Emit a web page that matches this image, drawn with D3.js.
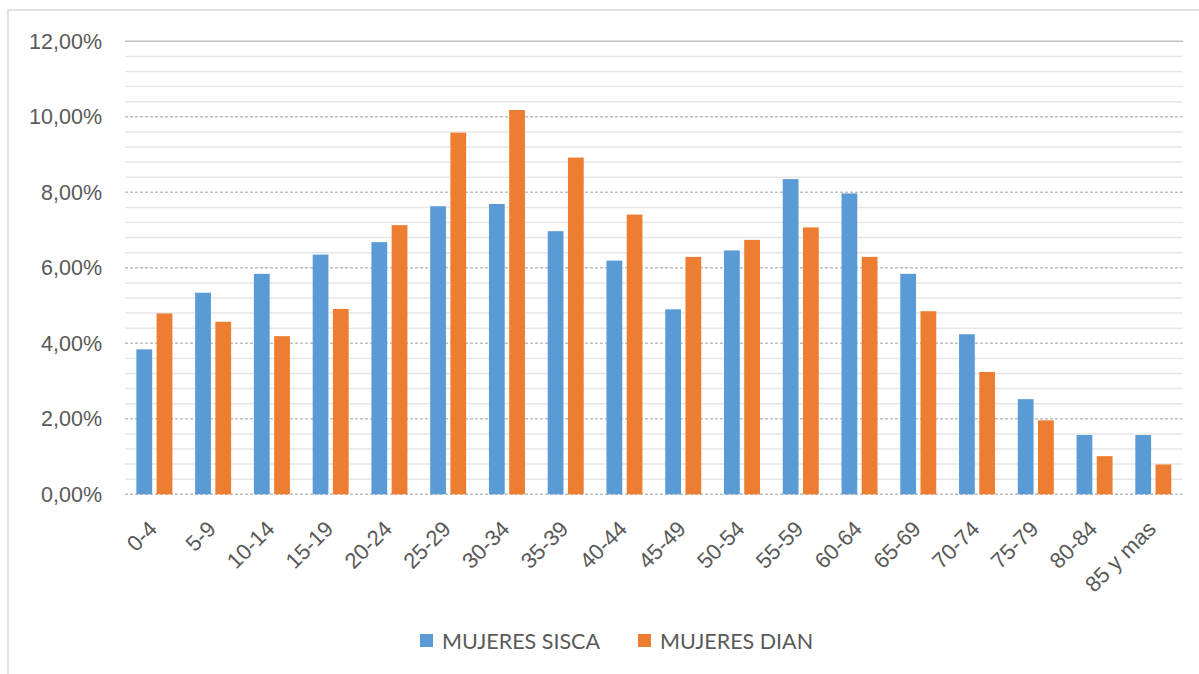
<!DOCTYPE html>
<html>
<head>
<meta charset="utf-8">
<script src="https://cdn.jsdelivr.net/npm/d3@7"></script>
<style>
  body { margin: 0; background: #fff; }
  svg { display: block; font-family: Lato, "Open Sans", sans-serif; }
</style>
</head>
<body>
<div id="chart"></div>
<script>
// grupos de edad y porcentajes
const categories = ["0-4", "5-9", "10-14", "15-19", "20-24", "25-29", "30-34", "35-39", "40-44",
  "45-49", "50-54", "55-59", "60-64", "65-69", "70-74", "75-79", "80-84", "85 y mas"];
const seriesNames = ["MUJERES SISCA", "MUJERES DIAN"];
const sisca = [3.84, 5.34, 5.84, 6.35, 6.68, 7.63, 7.69, 6.97, 6.19, 4.90, 6.46, 8.35, 7.97, 5.84, 4.24, 2.52, 1.57, 1.57];
const dian = [4.79, 4.57, 4.19, 4.91, 7.13, 9.58, 10.18, 8.92, 7.41, 6.29, 6.74, 7.07, 6.29, 4.85, 3.24, 1.96, 1.01, 0.79];
const yTicks = [0, 2, 4, 6, 8, 10, 12];

const colors = { "MUJERES SISCA": "#5B9BD5", "MUJERES DIAN": "#ED7D31" };

const width = 1199, height = 674;
const svg = d3.select("#chart").append("svg")
  .attr("width", width)
  .attr("height", height);

// borde del area del grafico
svg.append("rect")
  .attr("x", 8).attr("y", 10)
  .attr("width", 1300).attr("height", 700)
  .attr("fill", "none")
  .attr("stroke", "#d9d9d9")
  .attr("stroke-width", 1.5);

const plotLeft = 125, plotRight = 1182.7, plotTop = 41.3, plotBottom = 494.3;

const y = d3.scaleLinear().domain([0, 12]).range([plotBottom, plotTop]);
const x0 = d3.scaleBand().domain(categories).range([plotLeft, plotRight]).padding(0);
const groupW = 36;
const x1 = d3.scaleBand().domain(seriesNames)
  .range([(x0.bandwidth() - groupW) / 2, (x0.bandwidth() + groupW) / 2])
  .paddingInner(0.22).paddingOuter(0);

// lineas de division menores (cada 0,4%)
const minor = d3.range(0, 12.001, 0.4).filter(v => Math.abs(v / 2 - Math.round(v / 2)) > 1e-6);
svg.append("g")
  .selectAll("line")
  .data(minor)
  .join("line")
  .attr("x1", plotLeft).attr("x2", plotRight)
  .attr("y1", d => y(d)).attr("y2", d => y(d))
  .attr("stroke", "#e6e6e6")
  .attr("stroke-width", 1.5);

// lineas principales (cada 2%)
svg.append("g")
  .selectAll("line")
  .data(yTicks)
  .join("line")
  .attr("x1", plotLeft).attr("x2", plotRight)
  .attr("y1", d => y(d)).attr("y2", d => y(d))
  .attr("stroke", "#bfbfbf")
  .attr("stroke-width", 1.5)
  .attr("stroke-dasharray", d => d === 12 ? null : "3,2");

// eje Y
const yAxis = d3.axisLeft(y)
  .tickValues(yTicks)
  .tickSize(0)
  .tickPadding(0)
  .tickFormat(d => d.toFixed(2).replace(".", ",") + "%");
const gy = svg.append("g")
  .attr("transform", `translate(102,0)`)
  .call(yAxis);
gy.select(".domain").remove();
gy.selectAll("text")
  .attr("fill", "#595959")
  .style("font-size", "21.5px");

// barras
const data = categories.map((c, i) => ({ cat: c, values: [
  { name: seriesNames[0], value: sisca[i] },
  { name: seriesNames[1], value: dian[i] }
]}));

svg.append("g")
  .selectAll("g")
  .data(data)
  .join("g")
  .attr("transform", d => `translate(${x0(d.cat)},0)`)
  .selectAll("rect")
  .data(d => d.values)
  .join("rect")
  .attr("x", d => x1(d.name))
  .attr("width", x1.bandwidth())
  .attr("y", d => y(d.value))
  .attr("height", d => y(0) - y(d.value))
  .attr("fill", d => colors[d.name]);

// eje X con etiquetas rotadas
const xAxis = d3.axisBottom(x0).tickSize(0).tickPadding(0);
const gx = svg.append("g")
  .attr("transform", `translate(0,${plotBottom})`)
  .call(xAxis);
gx.select(".domain").remove();
gx.selectAll("text")
  .attr("fill", "#595959")
  .style("font-size", "22px")
  .attr("text-anchor", "end")
  .attr("dy", null)
  .attr("y", 0)
  .attr("transform", "translate(4,36) rotate(-45)");

// leyenda
const legendItems = [
  { name: seriesNames[0], x: 420 },
  { name: seriesNames[1], x: 638 }
];
const legend = svg.append("g")
  .selectAll("g")
  .data(legendItems)
  .join("g")
  .attr("transform", d => `translate(${d.x},634)`);
legend.append("rect")
  .attr("width", 13).attr("height", 13)
  .attr("fill", d => colors[d.name]);
legend.append("text")
  .attr("x", 22).attr("y", 7)
  .attr("dy", "0.35em")
  .attr("fill", "#595959")
  .style("font-size", "21.5px")
  .text(d => d.name);
</script>
</body>
</html>
